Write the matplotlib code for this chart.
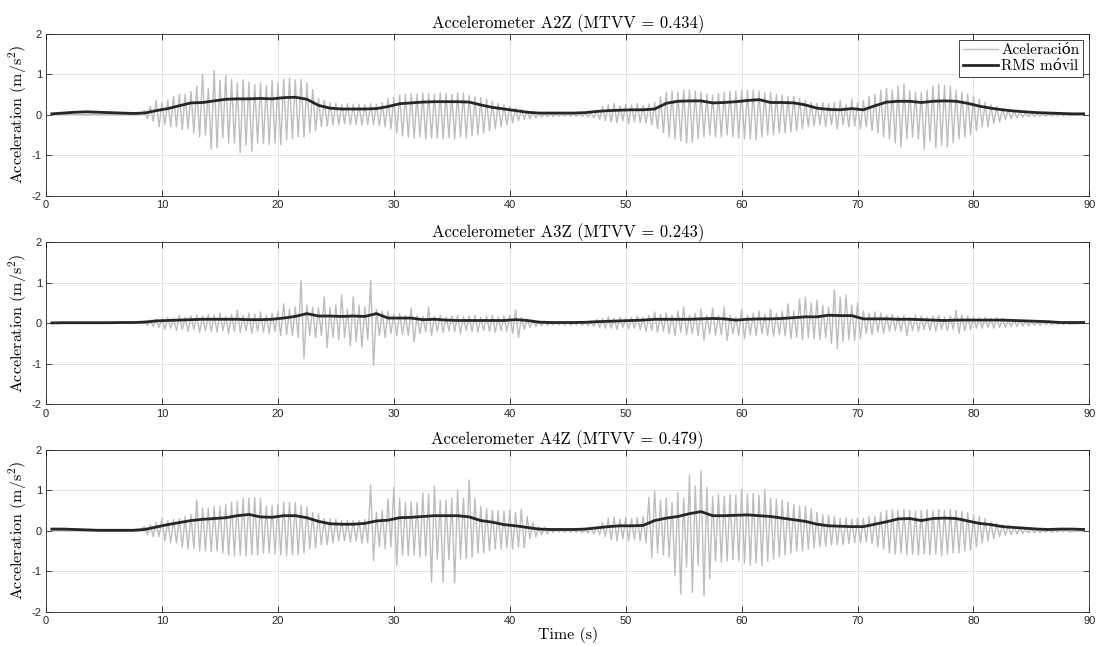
import numpy as np
import matplotlib.pyplot as plt
from matplotlib.lines import Line2D

plt.rcParams['mathtext.fontset'] = 'cm'
plt.rcParams['font.family'] = 'Liberation Sans'
plt.rcParams['axes.unicode_minus'] = False

# peaks of the raw signal, one every 0.5 s from 8.5 s to 88.0 s
t0_spk = 8.5
dt_spk = 0.5

a2_up = [0.1, 0.2, 0.35, 0.3, 0.35, 0.45, 0.5, 0.5, 0.57, 0.7,
         1.0, 0.65, 1.09, 0.85, 0.98, 0.86, 0.78, 0.86, 0.8, 0.74,
         0.78, 0.72, 0.85, 0.78, 0.88, 0.9, 0.86, 0.88, 0.78, 0.62,
         0.4, 0.35, 0.3, 0.28, 0.25, 0.27, 0.25, 0.26, 0.25, 0.27,
         0.25, 0.3, 0.4, 0.42, 0.48, 0.5, 0.52, 0.5, 0.54, 0.52,
         0.5, 0.54, 0.52, 0.5, 0.54, 0.53, 0.48, 0.45, 0.42, 0.38,
         0.33, 0.28, 0.24, 0.2, 0.16, 0.13, 0.1, 0.08, 0.06, 0.05,
         0.05, 0.04, 0.04, 0.04, 0.04, 0.05, 0.05, 0.06, 0.1, 0.2,
         0.25, 0.28, 0.22, 0.26, 0.24, 0.28, 0.22, 0.26, 0.3, 0.45,
         0.55, 0.58, 0.55, 0.6, 0.6, 0.58, 0.55, 0.5, 0.48, 0.52,
         0.55, 0.58, 0.58, 0.6, 0.6, 0.6, 0.58, 0.55, 0.55, 0.5,
         0.48, 0.45, 0.45, 0.4, 0.35, 0.3, 0.28, 0.3, 0.28, 0.3,
         0.35, 0.25, 0.38, 0.3, 0.35, 0.45, 0.5, 0.6, 0.65, 0.6,
         0.7, 0.75, 0.6, 0.55, 0.55, 0.6, 0.7, 0.75, 0.72, 0.7,
         0.6, 0.55, 0.5, 0.45, 0.38, 0.3, 0.25, 0.2, 0.15, 0.12,
         0.1, 0.08, 0.06, 0.05, 0.04, 0.04, 0.03, 0.03, 0.03, 0.02]
a2_dn = [-0.1, -0.16, -0.3, -0.25, -0.3, -0.3, -0.37, -0.35, -0.45, -0.55,
         -0.5, -0.85, -0.82, -0.57, -0.7, -0.7, -0.94, -0.75, -0.9, -0.7,
         -0.72, -0.74, -0.7, -0.74, -0.62, -0.6, -0.55, -0.55, -0.45, -0.4,
         -0.3, -0.28, -0.25, -0.25, -0.22, -0.25, -0.24, -0.26, -0.24, -0.25,
         -0.27, -0.3, -0.35, -0.45, -0.52, -0.55, -0.58, -0.55, -0.6, -0.57,
         -0.58, -0.6, -0.56, -0.6, -0.55, -0.58, -0.52, -0.5, -0.45, -0.4,
         -0.35, -0.3, -0.25, -0.2, -0.15, -0.12, -0.1, -0.08, -0.06, -0.05,
         -0.05, -0.04, -0.04, -0.04, -0.04, -0.05, -0.06, -0.08, -0.12, -0.15,
         -0.18, -0.2, -0.15, -0.22, -0.18, -0.2, -0.2, -0.25, -0.35, -0.45,
         -0.55, -0.6, -0.65, -0.7, -0.68, -0.6, -0.55, -0.5, -0.55, -0.55,
         -0.5, -0.55, -0.58, -0.6, -0.6, -0.62, -0.55, -0.5, -0.5, -0.45,
         -0.45, -0.42, -0.4, -0.35, -0.3, -0.28, -0.25, -0.3, -0.25, -0.35,
         -0.25, -0.3, -0.28, -0.35, -0.3, -0.4, -0.45, -0.55, -0.6, -0.7,
         -0.8, -0.6, -0.55, -0.6, -0.85, -0.65, -0.82, -0.75, -0.8, -0.7,
         -0.6, -0.55, -0.5, -0.4, -0.3, -0.3, -0.22, -0.18, -0.12, -0.1,
         -0.08, -0.06, -0.05, -0.05, -0.04, -0.04, -0.03, -0.03, -0.03, -0.02]

a3_up = [0.05, 0.08, 0.1, 0.12, 0.14, 0.12, 0.2, 0.15, 0.18, 0.2,
         0.18, 0.22, 0.2, 0.25, 0.18, 0.22, 0.32, 0.2, 0.25, 0.22,
         0.28, 0.2, 0.25, 0.3, 0.48, 0.35, 0.4, 1.06, 0.45, 0.4,
         0.38, 0.65, 0.4, 0.45, 0.7, 0.35, 0.65, 0.45, 0.4, 1.06,
         0.35, 0.3, 0.3, 0.22, 0.25, 0.2, 0.38, 0.2, 0.18, 0.4,
         0.18, 0.2, 0.15, 0.18, 0.2, 0.16, 0.18, 0.2, 0.15, 0.18,
         0.2, 0.15, 0.18, 0.2, 0.33, 0.15, 0.1, 0.08, 0.06, 0.05,
         0.04, 0.04, 0.04, 0.05, 0.04, 0.05, 0.05, 0.06, 0.1, 0.12,
         0.16, 0.12, 0.15, 0.12, 0.15, 0.18, 0.15, 0.2, 0.28, 0.22,
         0.25, 0.2, 0.3, 0.4, 0.2, 0.25, 0.36, 0.2, 0.38, 0.2,
         0.4, 0.2, 0.15, 0.34, 0.2, 0.25, 0.3, 0.22, 0.35, 0.25,
         0.3, 0.48, 0.3, 0.6, 0.65, 0.5, 0.57, 0.45, 0.4, 0.83,
         0.65, 0.7, 0.45, 0.5, 0.3, 0.25, 0.28, 0.25, 0.2, 0.22,
         0.18, 0.2, 0.15, 0.2, 0.18, 0.15, 0.18, 0.2, 0.15, 0.18,
         0.32, 0.2, 0.18, 0.15, 0.14, 0.15, 0.12, 0.14, 0.12, 0.1,
         0.1, 0.08, 0.07, 0.06, 0.05, 0.05, 0.04, 0.03, 0.03, 0.02]
a3_dn = [-0.05, -0.08, -0.1, -0.15, -0.12, -0.18, -0.15, -0.2, -0.15, -0.22,
         -0.18, -0.2, -0.22, -0.18, -0.25, -0.2, -0.22, -0.18, -0.25, -0.2,
         -0.22, -0.25, -0.2, -0.3, -0.28, -0.3, -0.35, -0.87, -0.3, -0.35,
         -0.3, -0.6, -0.35, -0.4, -0.35, -0.55, -0.45, -0.58, -0.4, -1.03,
         -0.3, -0.35, -0.25, -0.3, -0.28, -0.3, -0.46, -0.25, -0.2, -0.3,
         -0.2, -0.22, -0.18, -0.2, -0.25, -0.18, -0.2, -0.22, -0.18, -0.2,
         -0.22, -0.18, -0.2, -0.25, -0.35, -0.15, -0.1, -0.08, -0.06, -0.05,
         -0.04, -0.04, -0.04, -0.05, -0.04, -0.05, -0.06, -0.08, -0.1, -0.12,
         -0.12, -0.15, -0.1, -0.14, -0.12, -0.15, -0.2, -0.18, -0.22, -0.2,
         -0.25, -0.3, -0.22, -0.28, -0.25, -0.3, -0.42, -0.25, -0.3, -0.28,
         -0.42, -0.25, -0.3, -0.38, -0.28, -0.3, -0.25, -0.3, -0.32, -0.28,
         -0.3, -0.38, -0.35, -0.4, -0.35, -0.38, -0.4, -0.35, -0.5, -0.62,
         -0.45, -0.4, -0.42, -0.38, -0.25, -0.28, -0.22, -0.25, -0.2, -0.18,
         -0.2, -0.3, -0.18, -0.2, -0.15, -0.18, -0.2, -0.15, -0.18, -0.15,
         -0.25, -0.18, -0.15, -0.12, -0.12, -0.1, -0.12, -0.1, -0.1, -0.08,
         -0.08, -0.07, -0.06, -0.05, -0.05, -0.04, -0.04, -0.03, -0.03, -0.02]

a4_up = [0.1, 0.15, 0.2, 0.31, 0.25, 0.28, 0.3, 0.35, 0.4, 0.76,
         0.55, 0.55, 0.6, 0.6, 0.65, 0.7, 0.72, 0.8, 0.8, 0.82,
         0.8, 0.6, 0.62, 0.65, 0.7, 0.7, 0.7, 0.62, 0.58, 0.45,
         0.42, 0.3, 0.3, 0.28, 0.25, 0.25, 0.26, 0.25, 0.28, 1.13,
         0.45, 0.5, 0.78, 1.07, 0.8, 0.7, 0.72, 0.7, 0.93, 0.9,
         1.09, 0.75, 0.75, 0.8, 1.0, 0.8, 1.25, 0.8, 0.6, 0.55,
         0.5, 0.5, 0.48, 0.5, 0.45, 0.53, 0.35, 0.2, 0.1, 0.08,
         0.05, 0.04, 0.04, 0.04, 0.04, 0.05, 0.05, 0.08, 0.1, 0.2,
         0.3, 0.33, 0.28, 0.32, 0.3, 0.33, 0.35, 0.82, 0.98, 0.75,
         0.8, 0.7, 0.94, 0.8, 1.37, 1.1, 1.48, 1.07, 0.85, 0.9,
         0.85, 0.9, 0.88, 1.02, 0.9, 0.92, 0.88, 1.02, 0.8, 0.78,
         0.75, 0.7, 0.65, 0.6, 0.6, 0.55, 0.45, 0.4, 0.38, 0.35,
         0.3, 0.32, 0.28, 0.3, 0.3, 0.35, 0.35, 0.45, 0.5, 0.52,
         0.5, 0.52, 0.5, 0.48, 0.5, 0.52, 0.5, 0.52, 0.5, 0.52,
         0.5, 0.48, 0.45, 0.4, 0.35, 0.3, 0.22, 0.18, 0.15, 0.12,
         0.1, 0.08, 0.06, 0.05, 0.05, 0.04, 0.04, 0.03, 0.03, 0.03]
a4_dn = [-0.1, -0.15, -0.15, -0.25, -0.3, -0.3, -0.4, -0.45, -0.45, -0.5,
         -0.5, -0.52, -0.5, -0.55, -0.6, -0.62, -0.6, -0.62, -0.6, -0.6,
         -0.55, -0.55, -0.58, -0.6, -0.62, -0.6, -0.6, -0.55, -0.45, -0.42,
         -0.35, -0.35, -0.3, -0.25, -0.25, -0.28, -0.25, -0.3, -0.3, -0.74,
         -0.4, -0.45, -0.4, -0.86, -0.6, -0.62, -0.6, -0.65, -0.62, -1.27,
         -0.7, -1.27, -0.72, -1.29, -0.7, -0.68, -0.65, -0.55, -0.55, -0.5,
         -0.45, -0.45, -0.42, -0.45, -0.4, -0.42, -0.2, -0.15, -0.1, -0.08,
         -0.05, -0.04, -0.04, -0.04, -0.04, -0.05, -0.06, -0.08, -0.1, -0.15,
         -0.22, -0.25, -0.2, -0.25, -0.22, -0.25, -0.3, -0.66, -0.55, -0.6,
         -0.65, -1.1, -1.56, -0.9, -1.52, -0.86, -1.6, -1.19, -0.75, -0.78,
         -0.75, -0.72, -0.75, -0.8, -0.85, -0.8, -0.86, -0.75, -0.7, -0.65,
         -0.6, -0.55, -0.5, -0.5, -0.45, -0.42, -0.4, -0.38, -0.35, -0.35,
         -0.35, -0.32, -0.3, -0.3, -0.28, -0.32, -0.4, -0.45, -0.55, -0.58,
         -0.55, -0.6, -0.58, -0.6, -0.57, -0.6, -0.58, -0.62, -0.58, -0.55,
         -0.55, -0.5, -0.48, -0.4, -0.3, -0.25, -0.2, -0.15, -0.12, -0.1,
         -0.08, -0.07, -0.06, -0.05, -0.05, -0.04, -0.04, -0.03, -0.03, -0.03]

# moving RMS, one value per second (0.5 s ... 89.5 s)
a2_rms = [0.02, 0.04, 0.06, 0.07, 0.06, 0.05, 0.04, 0.03, 0.04, 0.1,
          0.15, 0.22, 0.29, 0.3, 0.34, 0.38, 0.39, 0.39, 0.4, 0.39,
          0.42, 0.43, 0.38, 0.23, 0.16, 0.14, 0.14, 0.14, 0.15, 0.2,
          0.27, 0.29, 0.31, 0.32, 0.32, 0.32, 0.31, 0.24, 0.18, 0.14,
          0.1, 0.06, 0.04, 0.04, 0.04, 0.04, 0.05, 0.08, 0.1, 0.11,
          0.12, 0.12, 0.14, 0.28, 0.33, 0.34, 0.34, 0.29, 0.3, 0.32,
          0.35, 0.37, 0.3, 0.3, 0.29, 0.24, 0.16, 0.13, 0.12, 0.15,
          0.12, 0.22, 0.31, 0.33, 0.33, 0.3, 0.33, 0.34, 0.33, 0.28,
          0.21, 0.16, 0.12, 0.09, 0.07, 0.05, 0.04, 0.03, 0.02, 0.02]
a3_rms = [0.01, 0.015, 0.015, 0.015, 0.015, 0.015, 0.02, 0.02, 0.03, 0.06,
          0.07, 0.08, 0.09, 0.1, 0.1, 0.1, 0.1, 0.09, 0.09, 0.1,
          0.13, 0.17, 0.24, 0.18, 0.18, 0.17, 0.18, 0.17, 0.24, 0.13,
          0.13, 0.13, 0.09, 0.1, 0.08, 0.07, 0.07, 0.07, 0.07, 0.07,
          0.09, 0.07, 0.03, 0.02, 0.02, 0.02, 0.025, 0.04, 0.05, 0.06,
          0.07, 0.08, 0.1, 0.1, 0.1, 0.1, 0.11, 0.12, 0.11, 0.08,
          0.1, 0.11, 0.11, 0.12, 0.14, 0.16, 0.16, 0.2, 0.19, 0.19,
          0.11, 0.11, 0.11, 0.1, 0.1, 0.09, 0.08, 0.07, 0.08, 0.08,
          0.08, 0.08, 0.08, 0.07, 0.06, 0.05, 0.04, 0.02, 0.02, 0.02]
a4_rms = [0.04, 0.04, 0.03, 0.02, 0.01, 0.01, 0.01, 0.01, 0.03, 0.09,
          0.15, 0.2, 0.25, 0.28, 0.3, 0.32, 0.37, 0.4, 0.34, 0.33,
          0.37, 0.37, 0.32, 0.23, 0.17, 0.16, 0.16, 0.18, 0.24, 0.26,
          0.32, 0.33, 0.35, 0.37, 0.37, 0.37, 0.34, 0.25, 0.21, 0.15,
          0.12, 0.08, 0.04, 0.03, 0.03, 0.03, 0.04, 0.07, 0.1, 0.12,
          0.12, 0.13, 0.25, 0.31, 0.35, 0.42, 0.47, 0.37, 0.37, 0.38,
          0.39, 0.37, 0.35, 0.31, 0.27, 0.23, 0.16, 0.12, 0.11, 0.1,
          0.1, 0.16, 0.22, 0.29, 0.3, 0.25, 0.3, 0.31, 0.3, 0.24,
          0.18, 0.15, 0.1, 0.08, 0.06, 0.04, 0.03, 0.04, 0.04, 0.03]

sensores = ["A2Z", "A3Z", "A4Z"]
mtvv = [0.434, 0.243, 0.479]
picos = [(a2_up, a2_dn), (a3_up, a3_dn), (a4_up, a4_dn)]
rms_lista = [a2_rms, a3_rms, a4_rms]

gris = "#bdbdbd"
oscuro = "#262626"
# cmr10 has no accented letters, DejaVu Serif fills them in
latex = ["cmr10", "DejaVu Serif"]


def senal(up, dn):
    # up peak at t, down peak a quarter period later
    t = t0_spk + dt_spk * np.arange(len(up))
    tt = np.column_stack([t, t + dt_spk / 2]).ravel()
    yy = np.column_stack([up, dn]).ravel()
    tt = np.concatenate([[0.5, 8.0], tt, [89.5]])
    yy = np.concatenate([[0.0, 0.0], yy, [0.0]])
    return tt, yy


fig = plt.figure(figsize=(10.96, 6.46), dpi=100)
bottoms = [0.697, 0.374, 0.053]

for i in range(3):
    ax = fig.add_axes([0.042, bottoms[i], 0.952, 0.251])
    tt, yy = senal(*picos[i])
    t_rms = np.arange(len(rms_lista[i])) + 0.5
    ax.plot(tt, yy, color=gris, lw=1.0)
    ax.plot(t_rms, rms_lista[i], color=oscuro, lw=2)

    ax.set_xlim(0, 90)
    ax.set_ylim(-2, 2)
    ax.set_xticks(np.arange(0, 91, 10))
    ax.set_yticks([-2, -1, 0, 1, 2])
    ax.grid(True, color="#dedede", lw=0.6)
    ax.tick_params(direction="in", length=4, width=0.6, labelsize=8,
                   colors=oscuro, top=True, right=True, pad=3)
    for sp in ax.spines.values():
        sp.set_color(oscuro)
        sp.set_linewidth(0.6)

    ax.set_title("Accelerometer %s (MTVV = %.3f)" % (sensores[i], mtvv[i]),
                 fontfamily=latex, fontsize=12, pad=4, color="black")
    ax.set_ylabel(r"Acceleration (m/s$^2$)", fontfamily=latex, fontsize=11.5,
                  labelpad=2)

    if i == 0:
        handles = [Line2D([], [], color=gris, lw=1.0),
                   Line2D([], [], color=oscuro, lw=2)]
        leg = ax.legend(handles, ["Aceleración", "RMS móvil"], loc="upper right",
                        prop={"family": latex, "size": 11}, fancybox=False,
                        edgecolor=oscuro, framealpha=1, handlelength=2.3,
                        handletextpad=0.2, borderpad=0.25, labelspacing=0.15,
                        borderaxespad=0.4)
        leg.get_frame().set_linewidth(0.6)
    if i == 2:
        ax.set_xlabel("Time (s)", fontfamily=latex, fontsize=11.5, labelpad=1)

fig.savefig("out.png", dpi=100)
